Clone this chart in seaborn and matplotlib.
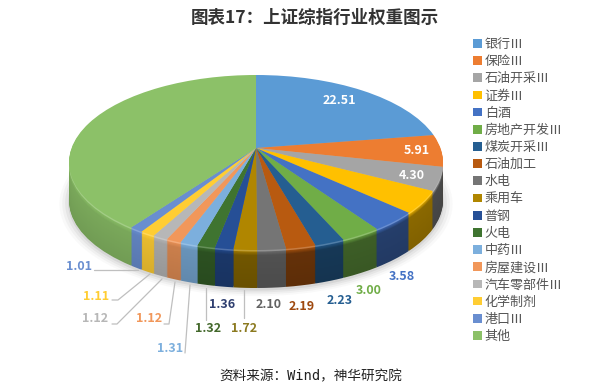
import numpy as np
import seaborn as sns
import matplotlib
matplotlib.use('Agg')
import matplotlib.pyplot as plt
from matplotlib.lines import Line2D
from matplotlib.transforms import Transform

# Data (证券Ⅲ has no printed label, so it is estimated)
industries = ['银行Ⅲ', '保险Ⅲ', '石油开采Ⅲ', '证券Ⅲ', '白酒', '房地产开发Ⅲ', '煤炭开采Ⅲ', '石油加工', '水电',
              '乘用车', '普钢', '火电', '中药Ⅲ', '房屋建设Ⅲ', '汽车零部件Ⅲ', '化学制剂', '港口Ⅲ', '其他']
weights = [22.51, 5.91, 4.30, 4.10, 3.58, 3.00, 2.23, 2.19, 2.10,
           1.72, 1.36, 1.32, 1.31, 1.12, 1.12, 1.11, 1.01, 40.01]
top_colors = ['#5B9BD5', '#ED7D31', '#A5A5A5', '#FFC000', '#4472C4', '#70AD47', '#255E91', '#B85A10', '#757575',
              '#B08600', '#264F96', '#3F7430', '#7CAFDD', '#F1975A', '#B7B7B7', '#FFCD33', '#698ED0', '#8CC168']
text_colors = ['#FFFFFF', '#FFFFFF', '#FFFFFF', '#FFC000', '#4472C4', '#70AD47', '#255E91', '#9E480E', '#636363',
               '#8C7A20', '#2F3F70', '#43682B', '#7CAFDD', '#F1975A', '#B7B7B7', '#FFCD33', '#698ED0', '#8CC168']
# how dark each slice's side is, light comes from the left
side_shade = [0.5, 0.5, 0.45, 0.55, 0.55, 0.55, 0.6, 0.55, 0.7,
              0.65, 0.7, 0.7, 0.85, 0.85, 0.9, 0.92, 0.92, 0.88]

W, H = 599, 385

# Pie geometry in pixels. centre is where the slices meet, perspective pushes it above the ellipse middle
cx, cy = 256, 148
a, b, k = 184.4, 85.1, 0.1657
depth = 38

# Label centres in pixels, by industry index. 证券 and 其他 have none
label_pos = {0: (339, 100), 1: (417, 150), 2: (412, 175), 4: (402, 276), 5: (369, 290), 6: (340, 301),
             7: (302, 306), 8: (269, 305), 9: (244, 328), 10: (222, 305), 11: (208, 329), 12: (170, 348),
             13: (149, 319), 14: (95, 319), 15: (96, 296), 16: (79, 266)}

# Leader lines in pixels
leaders = {16: [(94, 270), (138, 270)],
           15: [(112, 300), (118, 300), (150, 274)],
           14: [(112, 324), (117, 324), (162, 279)],
           13: [(164, 324), (169, 324), (175, 282)],
           12: [(185, 353), (190, 285)],
           11: [(206, 320), (206, 288)],
           9: [(244, 318), (244, 290)]}


class Tilt(Transform):
    # perspective view of the unit pie, gives pixel coordinates
    input_dims = 2
    output_dims = 2

    def __init__(self, drop=0):
        super().__init__()
        self.drop = drop

    def transform_non_affine(self, values):
        x, y = values[:, 0], values[:, 1]
        w = 1 + k * y
        return np.column_stack([cx + a * x / w, cy - b * y / w + self.drop])


sns.set_theme(style='white')
plt.rcParams['font.family'] = ['Noto Sans CJK SC', 'DejaVu Sans']

palette = sns.color_palette(top_colors)

fig = plt.figure(figsize=(W / 100, H / 100), dpi=100)
ax = fig.add_axes([0, 0, 1, 1])


def fx(x):
    return x / W


def fy(y):
    return 1 - y / H


def draw_layer(cols, drop, **kw):
    values = kw.pop('values', weights)
    radius = kw.pop('radius', 1)
    ws, _ = ax.pie(values, colors=cols, startangle=90, counterclock=False, radius=radius,
                   wedgeprops=dict(linewidth=0, **kw))
    for w in ws:
        w.set_transform(Tilt(drop) + ax.transData)
    return ws


# Soft shadow under the pie
for grow, alpha in [(1.05, 0.03), (1.035, 0.05), (1.02, 0.07), (1.005, 0.1)]:
    draw_layer(['#555555'], depth + 2, values=[1], radius=grow, alpha=alpha)

# Side of the pie: stacked layers, bottom one first. The top few px blend from the face colour
for off in np.arange(depth, 0, -1.0):
    blend = min(off / 6, 1)
    layer = []
    for col, shade in zip(palette, side_shade):
        f = shade * (1 - 0.08 * off / depth)
        layer.append(tuple(c * (1 - blend) + c * f * blend for c in col))
    draw_layer(layer, off)

# Thin light bevel on the rim
rim = [tuple(c * 0.8 + 0.2 for c in col) for col in palette]
draw_layer(rim, 1.5)

# Top face
wedges = draw_layer(palette, 0)

# pie() forces equal aspect and its own limits, the view is in pixels here
ax.set_aspect('auto')
ax.set_xlim(0, W)
ax.set_ylim(H, 0)
ax.axis('off')

# Value labels
for i, pos in label_pos.items():
    fig.text(fx(pos[0]), fy(pos[1]), f'{weights[i]:.2f}', color=text_colors[i], fontsize=9, fontweight='bold',
             ha='center', va='center')

for i, pts in leaders.items():
    xs = [fx(p[0]) for p in pts]
    ys = [fy(p[1]) for p in pts]
    fig.add_artist(Line2D(xs, ys, color='#BFBFBF', linewidth=0.9))

# Legend
fig.legend(wedges, industries, loc='upper left', bbox_to_anchor=(fx(473), fy(38)), frameon=False,
           fontsize=9.4, labelcolor='#555555', ncol=1, handlelength=0.7, handleheight=0.65,
           handletextpad=0.2, labelspacing=0.32, borderpad=0, borderaxespad=0)

fig.text(fx(315), fy(18), '图表17：上证综指行业权重图示', fontsize=12.6, fontweight='bold', color='#333333',
         ha='center', va='center')
fig.text(fx(311), fy(376), '资料来源：Wind，神华研究院', fontsize=9.8, color='#222222', ha='center', va='center',
         family=['DejaVu Sans Mono', 'Noto Sans CJK SC'])

fig.savefig('out.png', dpi=100)
